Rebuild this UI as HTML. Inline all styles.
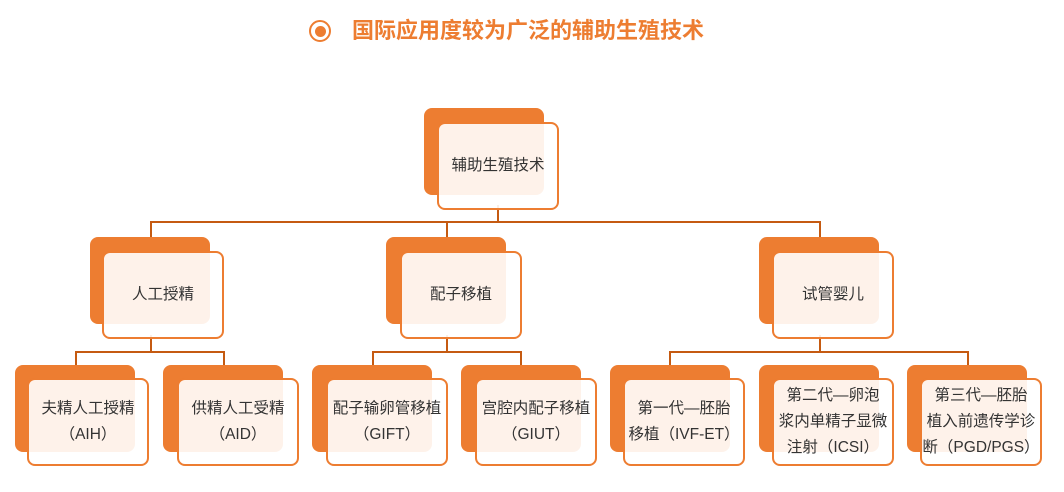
<!DOCTYPE html>
<html><head><meta charset="utf-8"><style>
body{margin:0;width:1064px;height:492px;background:#fff;position:relative;overflow:hidden;font-family:"Liberation Sans","Noto Sans CJK SC",sans-serif;}
.b{position:absolute;background:#ed7d31;border-radius:8px;width:120px;height:87px;}
.f{position:absolute;background:rgba(255,255,255,0.9);border:2px solid #ed7d31;border-radius:8px;box-sizing:border-box;width:122px;height:88px;display:flex;align-items:center;justify-content:center;text-align:center;font-size:15.5px;line-height:26px;color:#333;}
.l{position:absolute;background:#c55a11;}
</style></head><body>
<div style="position:absolute;left:309px;top:20px;width:18px;height:18px;border:2.5px solid #ed7d31;border-radius:50%;"></div>
<div style="position:absolute;left:315px;top:26px;width:11px;height:11px;background:#ed7d31;border-radius:50%;"></div>
<div style="position:absolute;left:352px;top:17px;font-size:22px;font-weight:bold;color:#ed7d31;letter-spacing:0px;line-height:28px;white-space:nowrap;">国际应用度较为广泛的辅助生殖技术</div>

<div class="l" style="left:497px;top:205px;width:2px;height:17px"></div>
<div class="l" style="left:150px;top:221px;width:671px;height:2px"></div>
<div class="l" style="left:150px;top:221px;width:2px;height:18px"></div>
<div class="l" style="left:446px;top:221px;width:2px;height:18px"></div>
<div class="l" style="left:819px;top:221px;width:2px;height:18px"></div>

<div class="l" style="left:150px;top:335px;width:2px;height:17px"></div>
<div class="l" style="left:75px;top:351px;width:150px;height:2px"></div>
<div class="l" style="left:75px;top:351px;width:2px;height:14px"></div>
<div class="l" style="left:223px;top:351px;width:2px;height:14px"></div>

<div class="l" style="left:446px;top:335px;width:2px;height:17px"></div>
<div class="l" style="left:372px;top:351px;width:150px;height:2px"></div>
<div class="l" style="left:372px;top:351px;width:2px;height:14px"></div>
<div class="l" style="left:520px;top:351px;width:2px;height:14px"></div>

<div class="l" style="left:819px;top:335px;width:2px;height:17px"></div>
<div class="l" style="left:669px;top:351px;width:300px;height:2px"></div>
<div class="l" style="left:669px;top:351px;width:2px;height:14px"></div>
<div class="l" style="left:967px;top:351px;width:2px;height:14px"></div>

<div class="b" style="left:424px;top:108px"></div><div class="f" style="left:437px;top:122px">辅助生殖技术</div>

<div class="b" style="left:90px;top:237px"></div><div class="f" style="left:102px;top:251px">人工授精</div>
<div class="b" style="left:386px;top:237px"></div><div class="f" style="left:400px;top:251px">配子移植</div>
<div class="b" style="left:759px;top:237px"></div><div class="f" style="left:772px;top:251px">试管婴儿</div>

<div class="b" style="left:15px;top:365px"></div><div class="f" style="left:27px;top:378px">夫精人工授精<br>（AIH）</div>
<div class="b" style="left:163px;top:365px"></div><div class="f" style="left:177px;top:378px">供精人工受精<br>（AID）</div>
<div class="b" style="left:312px;top:365px"></div><div class="f" style="left:326px;top:378px">配子输卵管移植<br>（GIFT）</div>
<div class="b" style="left:461px;top:365px"></div><div class="f" style="left:475px;top:378px">宫腔内配子移植<br>（GIUT）</div>
<div class="b" style="left:610px;top:365px"></div><div class="f" style="left:623px;top:378px">第一代—胚胎<br>移植（IVF-ET）</div>
<div class="b" style="left:759px;top:365px"></div><div class="f" style="left:772px;top:378px">第二代—卵泡<br>浆内单精子显微<br>注射（ICSI）</div>
<div class="b" style="left:907px;top:365px"></div><div class="f" style="left:920px;top:378px">第三代—胚胎<br>植入前遗传学诊<br>断（PGD/PGS）</div>
</body></html>
